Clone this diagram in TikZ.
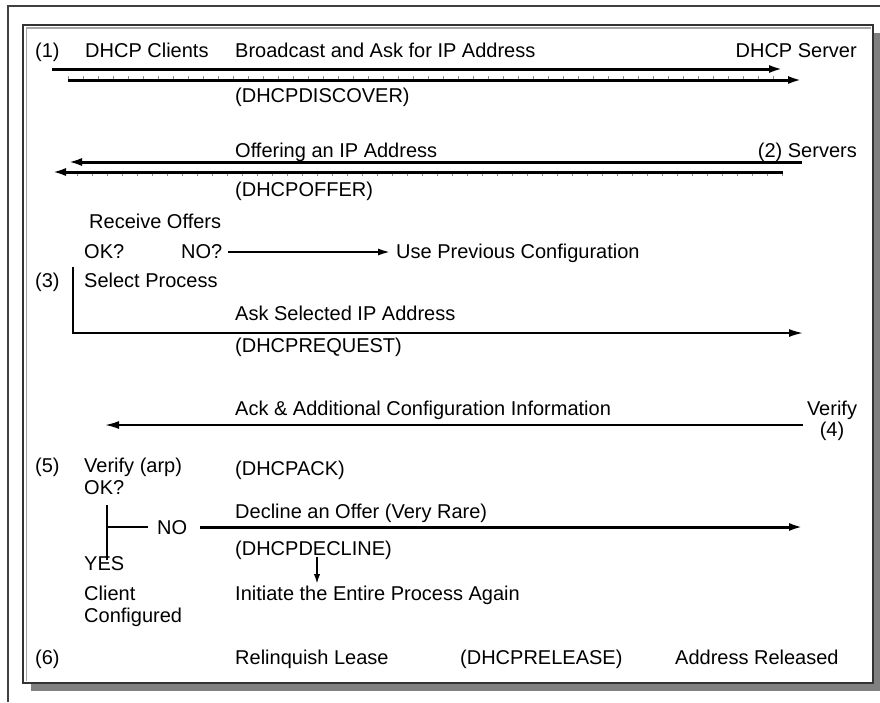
\documentclass[tikz,border=0pt]{standalone}
\usepackage{fontspec}
\setmainfont{Liberation Sans}
\usetikzlibrary{arrows.meta}
\begin{document}
\begin{tikzpicture}[x=1pt,y=-1pt,
  lbl/.style={anchor=base west, inner sep=0pt, font=\fontsize{20}{24}\selectfont},
  lble/.style={lbl, anchor=base east},
  lblc/.style={lbl, anchor=base},
  bold msg/.style={line width=3pt, -{Latex[length=14pt,width=8pt]}},
  thin msg/.style={line width=1.8pt, -{Latex[length=14pt,width=8pt]}},
  tickmarks/.style={line width=3pt, black!45, dash pattern=on 1pt off 14pt},
  bar/.style={line width=2.5pt},
  frameline/.style={line width=1.5pt, black!75}]

\useasboundingbox (0,0) rectangle (880,702);

% outer page frame
\draw[frameline] (8,702) -- (8,6) -- (880,6);

% panel with drop shadow
\fill[black!50] (31,33) rectangle (880,691);
\draw[line width=1.5pt, black!80, fill=white] (23,25) rectangle (873,683);
\draw[line width=1.2pt, black!35] (26.5,681) -- (26.5,28) -- (871,28);

% ---- step 1: DHCPDISCOVER
\node[lbl] (n1) at (35,57) {(1)};
\node[lbl] (clients) at (85,57) {DHCP Clients};
\node[lbl] (bcast) at (235,57) {Broadcast and Ask for IP Address};
\node[lble] (server) at (857,57) {DHCP Server};
\node[lbl] (discover) at (235,102) {(DHCPDISCOVER)};
\coordinate (d1a) at (52,69);   \coordinate (d1b) at (783,69);
\coordinate (d2a) at (68,80);   \coordinate (d2b) at (802,80);
\coordinate (d2t) at (790,80);
\draw[bold msg] (d1a) -- (d1b);
\draw[tickmarks] ([yshift=2.5pt]d2a) -- ([yshift=2.5pt]d2t);
\draw[bold msg] (d2a) -- (d2b);

% ---- step 2: DHCPOFFER
\node[lbl] (offering) at (235,157) {Offering an IP Address};
\node[lble] (servers) at (857,157) {(2) Servers};
\node[lbl] (offer) at (235,196) {(DHCPOFFER)};
\coordinate (o1a) at (802,162);  \coordinate (o1b) at (68,162);
\coordinate (o2a) at (783,172);  \coordinate (o2b) at (52,172);
\coordinate (o2t) at (64,172);
\draw[bold msg] (o1a) -- (o1b);
\draw[tickmarks] ([yshift=-2.5pt]o2a) -- ([yshift=-2.5pt]o2t);
\draw[bold msg] (o2a) -- (o2b);

% ---- step 3: selection and DHCPREQUEST
\node[lbl] (receive) at (89,228) {Receive Offers};
\node[lbl] (ok3) at (84,258) {OK?};
\node[lbl] (no3) at (181,258) {NO?};
\node[lbl] (prev) at (396,258) {Use Previous Configuration};
\coordinate (noa) at (228,252);  \coordinate (nob) at (391,252);
\draw[line width=2.4pt, -{Latex[length=13pt,width=7pt]}] (noa) -- (nob);

\node[lbl] (n3) at (35,287) {(3)};
\node[lbl] (select) at (84,287) {Select Process};
\node[lbl] (asksel) at (235,320) {Ask Selected IP Address};
\node[lbl] (request) at (235,352) {(DHCPREQUEST)};
\coordinate (rq0) at (73,267);  \coordinate (rq1) at (73,333);
\coordinate (rq2) at (803,333);
\draw[bar] (rq0) -- ([yshift=0.9pt]rq1);
\draw[thin msg] ([xshift=-1.2pt]rq1) -- (rq2);

% ---- step 4: DHCPACK
\node[lbl] (ackinfo) at (235,415) {Ack \& Additional Configuration Information};
\node[lblc] (verify4) at (832,415) {Verify};
\node[lblc] (n4) at (832,436) {(4)};
\coordinate (aka) at (803,425);  \coordinate (akb) at (105,425);
\draw[thin msg] (aka) -- (akb);

% ---- step 5: verification and DHCPDECLINE
\node[lbl] (n5) at (35,472) {(5)};
\node[lbl] (verarp) at (84,472) {Verify (arp)};
\node[lbl] (ack) at (235,475) {(DHCPACK)};
\node[lbl] (ok5) at (84,494) {OK?};
\node[lbl] (declineoff) at (235,518) {Decline an Offer (Very Rare)};
\node[lbl] (no5) at (157,534) {NO};
\node[lbl] (decline) at (235,555) {(DHCPDECLINE)};
\node[lbl] (yes) at (84,570) {YES};
\coordinate (vt) at (107,505);  \coordinate (vb) at (107,560);
\coordinate (vm) at (107,527);  \coordinate (vr) at (148,527);
\coordinate (dca) at (200,527); \coordinate (dcb) at (803,527);
\draw[bar] (vt) -- (vb);
\draw[bar] (vm) -- (vr);
\draw[bold msg] (dca) -- (dcb);

\coordinate (ra) at (317,557);  \coordinate (rb) at (317,584);
\draw[line width=2pt, -{Latex[length=10pt,width=6.5pt]}] (ra) -- (rb);
\node[lbl] (client) at (84,600) {Client};
\node[lbl] (configured) at (84,622) {Configured};
\node[lbl] (again) at (235,600) {Initiate the Entire Process Again};

% ---- step 6: DHCPRELEASE
\node[lbl] (n6) at (35,664) {(6)};
\node[lbl] (relinq) at (235,664) {Relinquish Lease};
\node[lbl] (release) at (460,664) {(DHCPRELEASE)};
\node[lbl] (released) at (675,664) {Address Released};
\end{tikzpicture}
\end{document}
